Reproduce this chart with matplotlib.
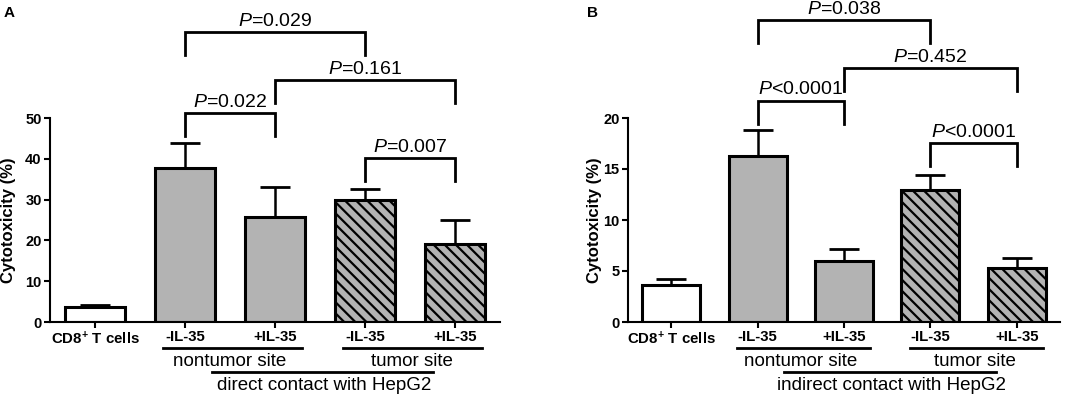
import numpy as np
import matplotlib
matplotlib.use("Agg")
from matplotlib import pyplot as plt
import matplotlib.transforms as mtransforms

plt.rcParams['font.family'] = ['Liberation Sans', 'DejaVu Sans']
plt.rcParams['mathtext.fontset'] = 'custom'
plt.rcParams['mathtext.rm'] = 'Liberation Sans'
plt.rcParams['mathtext.it'] = 'Liberation Sans:italic'
plt.rcParams['mathtext.bf'] = 'Liberation Sans:bold'
plt.rcParams['hatch.linewidth'] = 1.6

# data
tick_labels = ['CD8$^{\\mathbf{+}}$ T cells', '-IL-35', '+IL-35', '-IL-35', '+IL-35']
a_means = [3.7, 37.8, 25.7, 29.9, 19.1]
a_errs = [0.5, 6.0, 7.5, 2.8, 5.9]
b_means = [3.67, 16.3, 5.95, 12.9, 5.3]
b_errs = [0.5, 2.5, 1.25, 1.55, 0.97]
fills = ['white', '#b3b3b3', '#b3b3b3', '#b3b3b3', '#b3b3b3']
hatches = ['', '', '', '\\\\\\', '\\\\\\']

# brackets: (left bar, right bar, top y, leg length, text)
a_brackets = [(1, 3, 71.1, 5.6, '$P$=0.029'),
              (2, 4, 59.3, 5.6, '$P$=0.161'),
              (1, 2, 51.2, 5.6, '$P$=0.022'),
              (3, 4, 40.2, 5.6, '$P$=0.007')]
b_brackets = [(1, 3, 29.6, 2.25, '$P$=0.038'),
              (2, 4, 24.9, 2.25, '$P$=0.452'),
              (1, 2, 21.7, 2.25, '$P$<0.0001'),
              (3, 4, 17.5, 2.25, '$P$<0.0001')]


def draw_panel(ax, means, errs, ymax, ystep, brackets, group_text):
    x = np.arange(len(means))
    ax.bar(x, means, width=0.67, color=fills, edgecolor='black',
           linewidth=2.2, hatch=hatches, zorder=2)
    ax.errorbar(x, means, yerr=[np.zeros(len(errs)), errs], fmt='none',
                ecolor='black', elinewidth=1.8, capsize=11, capthick=2.0,
                zorder=1)
    ax.set_xlim(-0.5, 4.5)
    ax.set_ylim(0, ymax)
    ax.set_yticks(np.arange(0, ymax + 0.1, ystep))
    ax.set_xticks(x)
    ax.set_xticklabels(tick_labels, fontsize=10.8, fontweight='bold')
    for lab in ax.get_yticklabels():
        lab.set_fontweight('bold')
        lab.set_fontsize(10.5)
    ax.spines['top'].set_visible(False)
    ax.spines['right'].set_visible(False)
    ax.spines['left'].set_linewidth(1.5)
    ax.spines['bottom'].set_linewidth(1.5)
    ax.tick_params(axis='both', width=1.5, length=4, pad=2)
    ax.set_ylabel('Cytotoxicity (%)', fontsize=12, fontweight='bold')

    # significance brackets
    for l, r, top, leg, txt in brackets:
        ax.plot([l, l, r, r], [top - leg, top, top, top - leg], color='black',
                lw=2.0, clip_on=False, solid_joinstyle='miter')
        ax.text((l + r) / 2, top + leg * 0.1, txt, ha='center', va='bottom',
                fontsize=14, clip_on=False)

    # group annotations below the axis
    trans = mtransforms.blended_transform_factory(ax.transData, ax.transAxes)
    for x0, x1, xt, yl, yt, txt in group_text:
        ax.plot([x0, x1], [yl, yl], color='black', lw=2.0, transform=trans,
                clip_on=False)
        ax.text(xt, yt, txt, ha='center', va='center', fontsize=13.5,
                transform=trans)


fig = plt.figure(figsize=(10.84, 3.98), dpi=100)
ax_a = fig.add_axes([50 / 1084, 76 / 398, 450 / 1084, 204 / 398])
ax_b = fig.add_axes([628 / 1084, 76 / 398, 432 / 1084, 204 / 398])

groups_a = [(0.76, 2.3, 1.5, -0.127, -0.196, 'nontumor site'),
            (2.76, 4.3, 3.52, -0.127, -0.196, 'tumor site'),
            (1.3, 3.76, 2.55, -0.245, -0.31, 'direct contact with HepG2')]
groups_b = [(0.76, 2.3, 1.5, -0.127, -0.196, 'nontumor site'),
            (2.76, 4.3, 3.52, -0.127, -0.196, 'tumor site'),
            (1.3, 3.76, 2.55, -0.245, -0.31, 'indirect contact with HepG2')]

draw_panel(ax_a, a_means, a_errs, 50, 10, a_brackets, groups_a)
draw_panel(ax_b, b_means, b_errs, 20, 5, b_brackets, groups_b)

ax_a.yaxis.set_label_coords(-0.076, 0.5)
ax_b.yaxis.set_label_coords(-0.060, 0.5)

fig.text(4 / 1084, 1 - 13 / 398, 'A', fontsize=11, fontweight='bold', va='center')
fig.text(587 / 1084, 1 - 13 / 398, 'B', fontsize=11, fontweight='bold', va='center')

fig.savefig('out.png', dpi=100)
